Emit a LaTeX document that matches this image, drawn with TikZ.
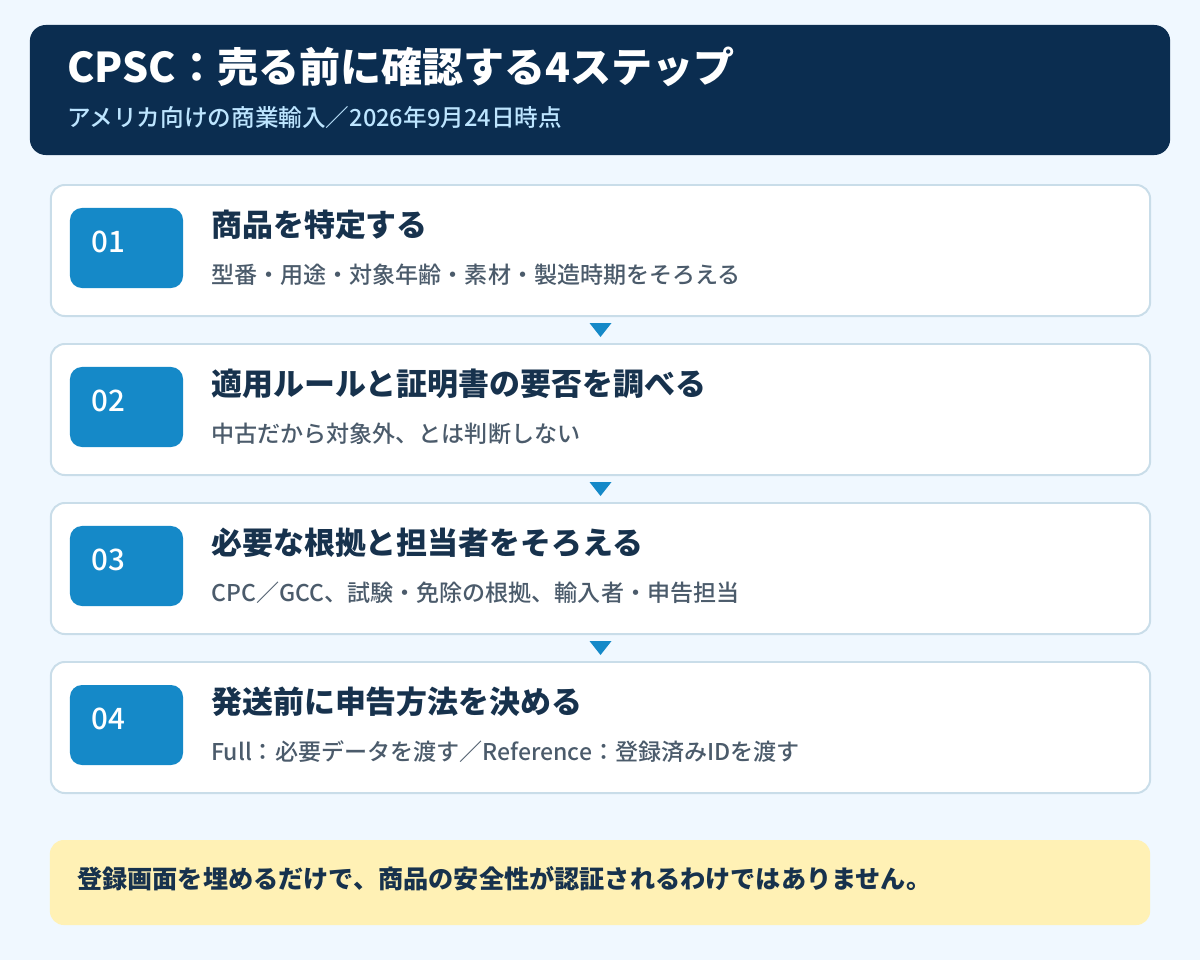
\documentclass[tikz,border=0pt]{standalone}
\usepackage{fontspec}
\setmainfont{Noto Sans CJK JP}
\newfontfamily\medfont{Noto Sans CJK JP Medium}
\usetikzlibrary{calc}

\definecolor{bg}{HTML}{F0F8FF}
\definecolor{headbg}{HTML}{0B2D50}
\definecolor{subblue}{HTML}{BDE5FF}
\definecolor{cardline}{HTML}{C9DDE9}
\definecolor{numblue}{HTML}{1589C8}
\definecolor{titlenavy}{HTML}{17324D}
\definecolor{descgray}{HTML}{4B5B6B}
\definecolor{notebg}{HTML}{FFF1B5}

\tikzset{
	card/.style={draw=cardline, line width=1.4pt, fill=white, rounded corners=0.35cm,
		minimum width=27.475cm, minimum height=3.275cm, inner sep=0},
	numbox/.style={fill=numblue, rounded corners=0.3cm,
		minimum width=2.825cm, minimum height=2cm, inner sep=0},
	numtext/.style={anchor=west, inner sep=0, text=white, font=\medfont\fontsize{21}{25}\selectfont},
	steptitle/.style={anchor=west, inner sep=0, text=titlenavy, font=\bfseries\fontsize{22}{26}\selectfont},
	stepdesc/.style={anchor=west, inner sep=0, text=descgray, font=\medfont\fontsize{16.4}{20}\selectfont},
}

\begin{document}
\begin{tikzpicture}[x=0.025cm, y=-0.025cm]
	\fill[bg] (0,0) rectangle (1200,960);
	\useasboundingbox (0,0) rectangle (1200,960);

	% header
	\node[fill=headbg, rounded corners=0.4cm, minimum width=28.5cm, minimum height=3.25cm] (head) at (600,90) {};
	\node[anchor=west, inner sep=0, text=white, font=\bfseries\fontsize{29.2}{34}\selectfont] (title) at (67,67) {CPSC：売る前に確認する4ステップ};
	\node[anchor=west, inner sep=0, text=subblue, font=\medfont\fontsize{16.8}{20}\selectfont] (subtitle) at (67,118) {アメリカ向けの商業輸入／2026年9月24日時点};

	% steps
	\node[card] (s1) at (600.5,250.5) {};
	\node[numbox] (n1) at (126.5,248) {};
	\node[numtext] at (91,242) {01};
	\node[steptitle] (t1) at (211,225) {商品を特定する};
	\node[stepdesc] (d1) at (211,275) {型番・用途・対象年齢・素材・製造時期をそろえる};

	\node[card] (s2) at (600.5,409.5) {};
	\node[numbox] (n2) at (126.5,407) {};
	\node[numtext] at (91,401) {02};
	\node[steptitle] (t2) at (211,384) {適用ルールと証明書の要否を調べる};
	\node[stepdesc] (d2) at (211,434) {中古だから対象外、とは判断しない};

	\node[card] (s3) at (600.5,568.5) {};
	\node[numbox] (n3) at (126.5,566) {};
	\node[numtext] at (91,560) {03};
	\node[steptitle] (t3) at (211,543) {必要な根拠と担当者をそろえる};
	\node[stepdesc] (d3) at (211,593) {CPC／GCC、試験・免除の根拠、輸入者・申告担当};

	\node[card] (s4) at (600.5,727.5) {};
	\node[numbox] (n4) at (126.5,725) {};
	\node[numtext] at (91,719) {04};
	\node[steptitle] (t4) at (211,702) {発送前に申告方法を決める};
	\node[stepdesc] (d4) at (211,752) {Full：必要データを渡す／Reference：登録済みIDを渡す};

	% arrows between steps
	\foreach \a/\b in {1/2,2/3,3/4}
		\fill[numblue] ($(s\a.south)!0.5!(s\b.north)$) coordinate (m\a)
			+(-11,-7) -- +(11,-7) -- +(0,7) -- cycle;

	% note
	\node[fill=notebg, rounded corners=0.35cm, minimum width=27.5cm, minimum height=2.125cm] (note) at (600,882.5) {};
	\node[anchor=west, inner sep=0, text=titlenavy, font=\bfseries\fontsize{17.9}{21}\selectfont] (notetext) at (77,879) {登録画面を埋めるだけで、商品の安全性が認証されるわけではありません。};
\end{tikzpicture}
\end{document}
